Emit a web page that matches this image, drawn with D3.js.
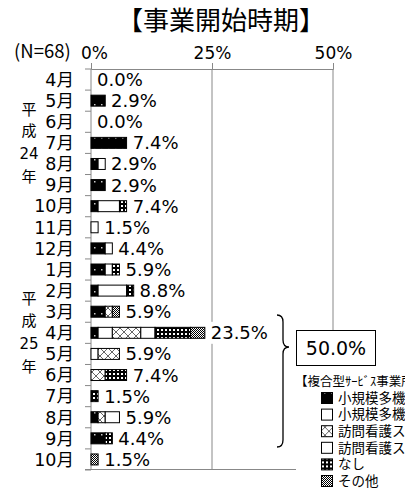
<!DOCTYPE html>
<html>
<head>
<meta charset="utf-8">
<script src="https://cdn.jsdelivr.net/npm/d3@7"></script>
<style>
  body { margin: 0; background: #fff; }
  text { font-family: "DejaVu Sans", "Noto Sans CJK JP", sans-serif; fill: #000; }
</style>
</head>
<body>
<div id="chart"></div>
<script>
// months, H24/4 .. H25/10
const months = ["4月","5月","6月","7月","8月","9月","10月","11月","12月","1月","2月","3月",
                "4月","5月","6月","7月","8月","9月","10月"];
const seriesNames = ["小規模多機能型居宅介護（併設）","小規模多機能型居宅介護（転換）",
                     "訪問看護ステーション（併設）","訪問看護ステーション（転換）","なし","その他"];
// percent of N=68, per series
const s1 = [0, 2.94, 0, 7.35, 1.47, 2.94, 1.47, 0, 2.94, 2.94, 1.47, 2.94, 1.47, 0, 0, 0, 1.47, 2.94, 0];
const s2 = [0, 0, 0, 0, 1.47, 0, 4.41, 1.47, 1.47, 1.47, 5.88, 0, 2.94, 1.47, 0, 0, 0, 0, 0];
const s3 = [0, 0, 0, 0, 0, 0, 0, 0, 0, 0, 0, 1.47, 5.88, 4.41, 2.94, 0, 1.47, 0, 0];
const s4 = [0, 0, 0, 0, 0, 0, 0, 0, 0, 0, 0, 0, 2.94, 0, 0, 0, 2.94, 0, 0];
const s5 = [0, 0, 0, 0, 0, 0, 1.47, 0, 0, 1.47, 1.47, 0, 7.35, 0, 4.41, 1.47, 0, 1.47, 0];
const s6 = [0, 0, 0, 0, 0, 0, 0, 0, 0, 0, 0, 1.47, 2.94, 0, 0, 0, 0, 0, 1.47];
const totals = [0.0, 2.9, 0.0, 7.4, 2.9, 2.9, 7.4, 1.5, 4.4, 5.9, 8.8, 5.9, 23.5, 5.9, 7.4, 1.5, 5.9, 4.4, 1.5];
const xTicks = [0, 25, 50];

const W = 405, H = 490;
const svg = d3.select("#chart").append("svg")
  .attr("width", W).attr("height", H);

// patterns
const defs = svg.append("defs");
let p = defs.append("pattern").attr("id","p1").attr("patternUnits","userSpaceOnUse")
  .attr("width",7).attr("height",11);
p.append("rect").attr("width",7).attr("height",11).attr("fill","#000");
p.append("rect").attr("x",3).attr("y",5).attr("width",1.5).attr("height",1.5).attr("fill","#ccc");

p = defs.append("pattern").attr("id","p3").attr("patternUnits","userSpaceOnUse")
  .attr("width",8).attr("height",8);
p.append("rect").attr("width",8).attr("height",8).attr("fill","#fff");
p.append("path").attr("d","M0,0L8,8M8,0L0,8").attr("stroke","#666").attr("stroke-width",1);

p = defs.append("pattern").attr("id","p5").attr("patternUnits","userSpaceOnUse")
  .attr("width",4).attr("height",4);
p.append("rect").attr("width",4).attr("height",4).attr("fill","#000");
p.append("rect").attr("x",1).attr("y",1).attr("width",2).attr("height",2).attr("fill","#fff");

p = defs.append("pattern").attr("id","p6").attr("patternUnits","userSpaceOnUse")
  .attr("width",2).attr("height",2);
p.append("rect").attr("width",2).attr("height",2).attr("fill","#fff");
p.append("rect").attr("width",1).attr("height",1).attr("fill","#000");
p.append("rect").attr("x",1).attr("y",1).attr("width",1).attr("height",1).attr("fill","#000");

const fills = ["url(#p1)", "#fff", "url(#p3)", "#fff", "url(#p5)", "url(#p6)"];

const x = d3.scaleLinear().domain([0, 50]).range([91, 333]);
const y = d3.scaleBand().domain(d3.range(months.length)).range([69, 470]).paddingInner(0.48).paddingOuter(0.24);
const band = d3.scaleBand().domain(d3.range(months.length)).range([69, 470]);

// title
svg.append("text").attr("x", 221).attr("y", 30).attr("text-anchor","middle")
  .style("font-family","'Noto Sans CJK JP'").style("font-size","26px").text("【事業開始時期】");
svg.append("text").attr("x", 14).attr("y", 58).style("font-size","18.5px")
  .style("font-family","'Noto Sans CJK JP'").text("(N=68)");

// gridlines
svg.append("g").selectAll("line").data(xTicks.slice(1)).join("line")
  .attr("x1", d => x(d)).attr("x2", d => x(d)).attr("y1", 69).attr("y2", 469)
  .attr("stroke","#888").attr("stroke-width",1);

// top axis
const xAxis = svg.append("g").attr("transform","translate(0,69)")
  .call(d3.axisTop(x).tickValues(xTicks).tickFormat(d => d + "%").tickSize(6).tickPadding(4));
xAxis.select(".domain").attr("stroke","#888");
xAxis.selectAll(".tick line").attr("stroke","#888");
xAxis.selectAll("text").style("font-size","17px").attr("dx", (d,i) => i === 0 ? 3 : 0);

// left axis
svg.append("line").attr("x1",91).attr("x2",91).attr("y1",69).attr("y2",469).attr("stroke","#888");
svg.append("line").attr("x1",85).attr("x2",333).attr("y1",469.5).attr("y2",469.5).attr("stroke","#888");
svg.append("g").selectAll("line").data(d3.range(months.length + 1)).join("line")
  .attr("x1",85).attr("x2",91)
  .attr("y1", d => 69 + d * band.step()).attr("y2", d => 69 + d * band.step())
  .attr("stroke","#888");

svg.append("g").selectAll("text").data(months).join("text")
  .attr("x", 74).attr("y", (d,i) => band(i) + band.bandwidth()/2)
  .attr("dy","0.36em").attr("text-anchor","end").style("font-size","17.5px").text(d => d);

// era labels
const era = [["平",110],["成",131],["24",154],["年",177],["平",299],["成",321],["25",344],["年",367]];
svg.append("g").selectAll("text").data(era).join("text")
  .attr("x", 29).attr("y", d => d[1]).attr("dy","0.36em").attr("text-anchor","middle")
  .style("font-size","15px").text(d => d[0]);

// stacked bars
const rows = months.map((m, i) => ({ i, a: s1[i], b: s2[i], c: s3[i], d: s4[i], e: s5[i], f: s6[i] }));
const stacked = d3.stack().keys(["a","b","c","d","e","f"])(rows);

svg.append("g").selectAll("g").data(stacked).join("g")
  .attr("fill", (d, k) => fills[k])
  .selectAll("rect").data(d => d.filter(v => v[1] - v[0] > 0)).join("rect")
    .attr("x", d => x(d[0])).attr("y", d => y(d.data.i))
    .attr("width", d => x(d[1]) - x(d[0])).attr("height", y.bandwidth())
    .attr("stroke","#000").attr("stroke-width",1);

// value labels
const lab = svg.append("g").selectAll("g").data(totals).join("g")
  .attr("transform", (d,i) => `translate(${x(d) + 6},${band(i) + band.bandwidth()/2})`);
lab.filter(d => d > 20).append("rect").attr("x",-2).attr("y",-11).attr("width",60).attr("height",22).attr("fill","#fff");
lab.append("text").attr("dy","0.36em").style("font-size","18px").text(d => d.toFixed(1) + "%");

// brace
svg.append("path")
  .attr("d","M277,315 Q283,315 283,322 L283,340 Q283,347 289,347 Q283,347 283,354 L283,440 Q283,447 277,447")
  .attr("fill","none").attr("stroke","#000").attr("stroke-width",1.3);

// legend background
svg.append("rect").attr("x",296).attr("y",366).attr("width",W-296).attr("height",H-366).attr("fill","#fff");

// 50% box
svg.append("rect").attr("x",296.5).attr("y",330.5).attr("width",79).attr("height",35)
  .attr("fill","#fff").attr("stroke","#000");
svg.append("text").attr("x",336).attr("y",348).attr("dy","0.36em").attr("text-anchor","middle")
  .style("font-size","19px").text("50.0%");

// legend
svg.append("text").attr("x",295).attr("y",381).attr("dy","0.36em")
  .style("font-family","'Noto Sans CJK JP'").style("font-size","12.5px").text("【複合型ｻｰﾋﾞｽ事業所の前身】");
const leg = svg.append("g").selectAll("g").data(seriesNames).join("g")
  .attr("transform", (d,i) => `translate(321,${398 + i * 16.6})`);
leg.append("rect").attr("x",0.5).attr("y",-5.5).attr("width",11).attr("height",11)
  .attr("fill", (d,i) => fills[i]).attr("stroke","#000");
leg.append("text").attr("x",17).attr("dy","0.36em")
  .style("font-family","'Noto Sans CJK JP'").style("font-size","13.5px").text(d => d);
</script>
</body>
</html>
